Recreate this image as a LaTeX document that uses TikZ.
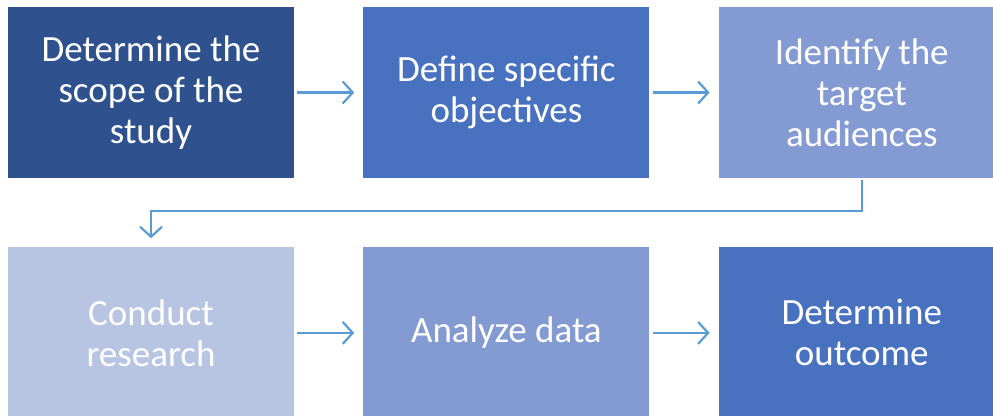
\documentclass[tikz,border=0pt]{standalone}
\usepackage{fontspec}
\setmainfont{Carlito}
\usepackage{tikz}
\definecolor{stepdark}{RGB}{47, 82, 143}
\definecolor{stepmid}{RGB}{72, 113, 192}
\definecolor{steplight}{RGB}{132, 154, 210}
\definecolor{steppale}{RGB}{183, 196, 226}
\definecolor{arrowblue}{RGB}{91, 155, 213}
\usetikzlibrary{
  arrows.meta,
  positioning,
}
\tikzset{
  >={Straight Barb[length=10pt,width=22pt]},
  stepbox/.style={rectangle,minimum width=286pt,minimum height=171pt,text=white,align=center,inner sep=0pt,
    font=\fontsize{37}{41}\selectfont},
  flow/.style={->,draw=arrowblue,line width=2.2pt,shorten <=3pt,shorten >=9pt},
}

\begin{document}
\begin{tikzpicture}[x=1pt,y=1pt,node distance=69pt and 69pt]
        \useasboundingbox (0,0) rectangle (993,-415);

        \node[stepbox,fill=stepdark]    (s1) at (151,-92.5)   {Determine the\\scope of the\\study};
        \node[stepbox,fill=stepmid]     (s2) [right=of s1]    {Define specific\\objectives};
        \node[stepbox,fill=steplight]   (s3) [right=of s2]    {Identify the\\target\\audiences};
        \node[stepbox,fill=steppale]    (s4) [below=of s1]    {Conduct\\research};
        \node[stepbox,fill=steplight]   (s5) [right=of s4]    {Analyze data};
        \node[stepbox,fill=stepmid]     (s6) [right=of s5]    {Determine\\outcome};

        \draw[flow] (s1.east) -- (s2.west);
        \draw[flow] (s2.east) -- (s3.west);
        \draw[flow,shorten <=2pt] (s3.south) -- ++(0,-33) -| (s4.north);
        \draw[flow] (s4.east) -- (s5.west);
        \draw[flow] (s5.east) -- (s6.west);

    \end{tikzpicture}
\end{document}
